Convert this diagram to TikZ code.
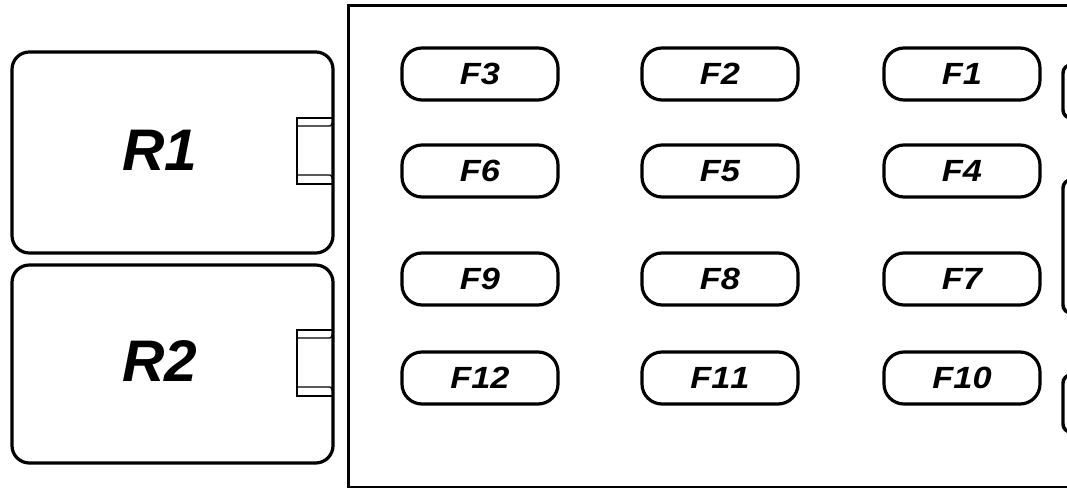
\documentclass[tikz,border=0pt]{standalone}
\usepackage{fontspec}
\setmainfont{Liberation Sans}
\newfontfamily\fusefont{Liberation Sans}[Kerning=Off,FakeStretch=1.12]
\begin{document}
\begin{tikzpicture}[x=0.75pt,y=-0.75pt,
  thick line/.style={line width=2.4pt},
  fuse/.style={draw,thick line,rectangle,rounded corners=15pt,minimum width=117pt,minimum height=39pt,inner sep=0pt,font=\fusefont\bfseries\itshape\fontsize{23}{23}\selectfont},
  relay/.style={draw,thick line,rectangle,rounded corners=13pt,inner sep=0pt},
  rlabel/.style={font=\bfseries\itshape\fontsize{44}{44}\selectfont,inner sep=0pt},
  tab/.style={line width=1pt},
  bar/.style={draw,line width=2.6pt,rounded corners=6pt}]
\useasboundingbox (0,0) rectangle (1067,488);
\clip (0,0) rectangle (1067,488);
% relays
\node[relay,minimum width=240.75pt,minimum height=150.75pt] (r1) at (172.5,152.5) {};
\node[rlabel] (r1t) at (160,150) {R1};
\node[relay,minimum width=240.75pt,minimum height=148.5pt] (r2) at (172.5,364) {};
\node[rlabel] (r2t) at (160,361) {R2};
% tabs
\draw[tab] (297,118) rectangle (333,184);
\draw[tab] (297,126) -- (330,126) to[out=0,in=90] (333,120);
\draw[tab] (297,175) -- (330,175) to[out=0,in=-90] (333,181);
\draw[tab] (297,330) rectangle (333,396);
\draw[tab] (297,338) -- (330,338) to[out=0,in=90] (333,332);
\draw[tab] (297,387) -- (330,387) to[out=0,in=-90] (333,393);
% frame
\node[draw,thick line,rectangle,anchor=north west,minimum width=600pt,minimum height=361.5pt,inner sep=0pt] (frame) at (347,4) {};
% fuses
\node[fuse] (f3) at (480,74) {F3};
\node[fuse] (f2) at (720,74) {F2};
\node[fuse] (f1) at (962,74) {F1};
\node[fuse] (f6) at (480,171) {F6};
\node[fuse] (f5) at (720,171) {F5};
\node[fuse] (f4) at (962,171) {F4};
\node[fuse] (f9) at (480,279) {F9};
\node[fuse] (f8) at (720,279) {F8};
\node[fuse] (f7) at (962,279) {F7};
\node[fuse] (f12) at (480,378) {F12};
\node[fuse] (f11) at (720,378) {F11};
\node[fuse] (f10) at (962,378) {F10};
% right-edge bars
\draw[bar] (1063,65) rectangle (1110,118);
\draw[bar] (1063,180) rectangle (1110,313);
\draw[bar] (1063,375) rectangle (1110,432);
\end{tikzpicture}
\end{document}
